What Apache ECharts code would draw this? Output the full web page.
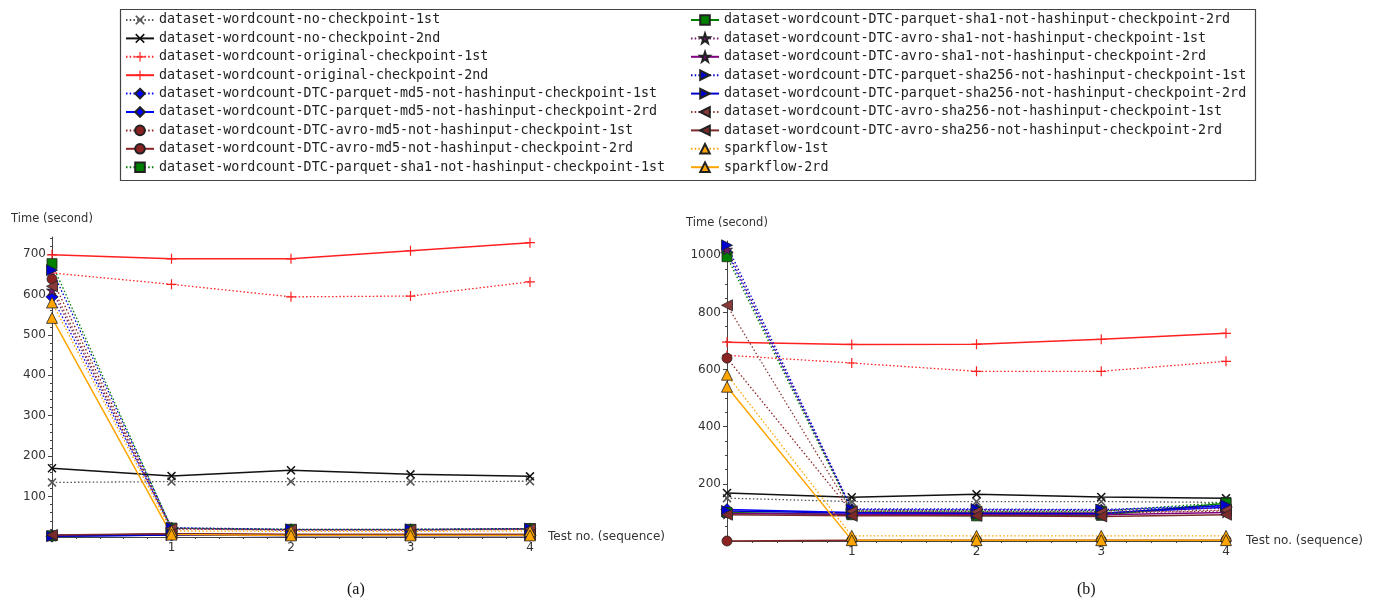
<!DOCTYPE html>
<html><head><meta charset="utf-8">
<script src="https://cdn.jsdelivr.net/npm/echarts@6/dist/echarts.min.js"></script>
<style>html,body{margin:0;padding:0;background:#fff}#c{width:1382px;height:605px}</style>
</head><body><div id="c"></div>
<script>
// ---------- data ----------
const testNo = [0, 1, 2, 3, 4];
const xTickLabels = [1, 2, 3, 4];
const yTicksA = [100, 200, 300, 400, 500, 600, 700];
const yTicksB = [200, 400, 600, 800, 1000];
const seriesNames = [
  'dataset-wordcount-no-checkpoint-1st',
  'dataset-wordcount-no-checkpoint-2nd',
  'dataset-wordcount-original-checkpoint-1st',
  'dataset-wordcount-original-checkpoint-2nd',
  'dataset-wordcount-DTC-parquet-md5-not-hashinput-checkpoint-1st',
  'dataset-wordcount-DTC-parquet-md5-not-hashinput-checkpoint-2rd',
  'dataset-wordcount-DTC-avro-md5-not-hashinput-checkpoint-1st',
  'dataset-wordcount-DTC-avro-md5-not-hashinput-checkpoint-2rd',
  'dataset-wordcount-DTC-parquet-sha1-not-hashinput-checkpoint-1st',
  'dataset-wordcount-DTC-parquet-sha1-not-hashinput-checkpoint-2rd',
  'dataset-wordcount-DTC-avro-sha1-not-hashinput-checkpoint-1st',
  'dataset-wordcount-DTC-avro-sha1-not-hashinput-checkpoint-2rd',
  'dataset-wordcount-DTC-parquet-sha256-not-hashinput-checkpoint-1st',
  'dataset-wordcount-DTC-parquet-sha256-not-hashinput-checkpoint-2rd',
  'dataset-wordcount-DTC-avro-sha256-not-hashinput-checkpoint-1st',
  'dataset-wordcount-DTC-avro-sha256-not-hashinput-checkpoint-2rd',
  'sparkflow-1st',
  'sparkflow-2rd'
];
// chart (a)
const a_noCp1      = [135, 137, 137, 137, 138];
const a_noCp2      = [170, 151, 165, 155, 150];
const a_orig1      = [653, 625, 594, 596, 631];
const a_orig2      = [698, 688, 688, 708, 728];
const a_pqMd5_1    = [594, 22, 18, 18, 20];
const a_pqMd5_2    = [2, 5, 4, 4, 4];
const a_avMd5_1    = [638, 21, 18, 18, 20];
const a_avMd5_2    = [3, 8, 6, 6, 6];
const a_pqSha1_1   = [676, 22, 19, 19, 21];
const a_pqSha1_2   = [3, 6, 5, 5, 5];
const a_avSha1_1   = [610, 20, 17, 17, 19];
const a_avSha1_2   = [4, 7, 5, 5, 5];
const a_pqSha256_1 = [660, 23, 19, 19, 21];
const a_pqSha256_2 = [2, 5, 4, 4, 4];
const a_avSha256_1 = [620, 21, 18, 18, 20];
const a_avSha256_2 = [5, 8, 6, 6, 6];
const a_spark1     = [580, 15, 14, 14, 15];
const a_spark2     = [542, 6, 4, 4, 4];
// chart (b)
const b_noCp1      = [150, 138, 138, 138, 135];
const b_noCp2      = [168, 153, 164, 154, 150];
const b_orig1      = [650, 623, 594, 594, 629];
const b_orig2      = [696, 688, 689, 706, 727];
const b_pqMd5_1    = [1010, 110, 110, 108, 122];
const b_pqMd5_2    = [110, 100, 98, 97, 118];
const b_avMd5_1    = [640, 102, 100, 98, 105];
const b_avMd5_2    = [0, 3, 3, 3, 3];
const b_pqSha1_1   = [995, 105, 104, 104, 135];
const b_pqSha1_2   = [100, 92, 88, 90, 132];
const b_avSha1_1   = [1020, 108, 107, 106, 115];
const b_avSha1_2   = [96, 94, 93, 92, 100];
const b_pqSha256_1 = [1035, 112, 112, 110, 125];
const b_pqSha256_2 = [105, 98, 97, 96, 125];
const b_avSha256_1 = [825, 104, 102, 100, 108];
const b_avSha256_2 = [92, 88, 88, 86, 92];
const b_spark1     = [582, 18, 18, 18, 18];
const b_spark2     = [540, 3, 3, 3, 3];

const dataA = [a_noCp1, a_noCp2, a_orig1, a_orig2, a_pqMd5_1, a_pqMd5_2, a_avMd5_1, a_avMd5_2,
  a_pqSha1_1, a_pqSha1_2, a_avSha1_1, a_avSha1_2, a_pqSha256_1, a_pqSha256_2, a_avSha256_1, a_avSha256_2, a_spark1, a_spark2];
const dataB = [b_noCp1, b_noCp2, b_orig1, b_orig2, b_pqMd5_1, b_pqMd5_2, b_avMd5_1, b_avMd5_2,
  b_pqSha1_1, b_pqSha1_2, b_avSha1_1, b_avSha1_2, b_pqSha256_1, b_pqSha256_2, b_avSha256_1, b_avSha256_2, b_spark1, b_spark2];

// ---------- styles ----------
const SYM_X = 'path://M0,1.2L1.2,0L5,3.8L8.8,0L10,1.2L6.2,5L10,8.8L8.8,10L5,6.2L1.2,10L0,8.8L3.8,5Z';
const SYM_PLUS = 'path://M4.4,0H5.6V4.4H10V5.6H5.6V10H4.4V5.6H0V4.4H4.4Z';
const SYM_STAR = 'path://M5,0L6.2,3.6L10,3.6L7,5.9L8.1,9.5L5,7.3L1.9,9.5L3,5.9L0,3.6L3.8,3.6Z';
const styles = [
  {c: '#555555', d: true,  s: SYM_X, z: 9, b: false},
  {c: '#111111', d: false, s: SYM_X, z: 9, b: false},
  {c: '#ff2020', d: true,  s: SYM_PLUS, z: 10, b: false},
  {c: '#ff2020', d: false, s: SYM_PLUS, z: 10, b: false},
  {c: '#0000ff', d: true,  s: 'diamond', z: 12, b: true},
  {c: '#0000ff', d: false, s: 'diamond', z: 12, b: true},
  {c: '#8b2323', d: true,  s: 'circle', z: 10, b: true},
  {c: '#8b2323', d: false, s: 'circle', z: 10, b: true},
  {c: '#008000', d: true,  s: 'rect', z: 10, b: true},
  {c: '#008000', d: false, s: 'rect', z: 10, b: true},
  {c: '#6a1a6a', d: true,  s: SYM_STAR, z: 11, b: true},
  {c: '#800080', d: false, s: SYM_STAR, z: 11, b: true},
  {c: '#0000cd', d: true,  s: 'triangle', r: -90, z: 11, b: true},
  {c: '#0000cd', d: false, s: 'triangle', r: -90, z: 11, b: true},
  {c: '#8b3a3a', d: true,  s: 'triangle', r: 90, z: 11, b: true},
  {c: '#7a2a2a', d: false, s: 'triangle', r: 90, z: 11, b: true},
  {c: '#ffa500', d: true,  s: 'triangle', z: 11, b: true},
  {c: '#ffa500', d: false, s: 'triangle', z: 11, b: true}
];

function buildSeries(data, gi) {
  return data.map((vals, i) => {
    const st = styles[i];
    return {
      name: seriesNames[i], type: 'line', xAxisIndex: gi * 2, yAxisIndex: gi * 2,
      data: vals.map((v, k) => [testNo[k], v]),
      symbol: st.s, symbolSize: st.z, symbolRotate: st.r || 0,
      showAllSymbol: true, animation: false,
      lineStyle: {color: st.c, width: st.d ? 1.3 : 1.5, type: st.d ? [1.5, 2.2] : 'solid'},
      itemStyle: {color: st.c, borderColor: st.b ? '#222' : st.c, borderWidth: st.b ? 0.8 : 0},
      emphasis: {disabled: true}
    };
  });
}

const tickFont = {fontFamily: 'DejaVu Sans', fontSize: 12, color: '#333', formatter: v => String(v)};
const axisCol = '#444';
function xAxes(gi) {
  const base = {type: 'value', gridIndex: gi, min: 0, max: 4, interval: 1, splitLine: {show: false}};
  return [
    Object.assign({}, base, {
      axisLine: {onZero: false, lineStyle: {color: axisCol, width: 1}},
      axisTick: {show: true, length: 4, customValues: xTickLabels, lineStyle: {color: axisCol}},
      minorTick: {show: true, splitNumber: 5, length: 2, lineStyle: {color: axisCol}},
      axisLabel: Object.assign({margin: 5, customValues: xTickLabels}, tickFont),
      name: 'Test no. (sequence)', nameLocation: 'end', nameGap: gi ? 20 : 18,
      nameTextStyle: {fontFamily: 'DejaVu Sans', fontSize: 12, color: '#333', padding: [0, 0, 10, 0]}
    }),
    Object.assign({}, base, {
      axisLine: {show: false}, axisLabel: {show: false},
      axisTick: {show: true, inside: true, length: 4, customValues: xTickLabels, lineStyle: {color: axisCol}},
      minorTick: {show: true, splitNumber: 5, length: 2, lineStyle: {color: axisCol}}
    })
  ];
}
function yAxes(gi, max, interval, ticks, minorSplit) {
  const base = {type: 'value', gridIndex: gi, min: 0, max: max, interval: interval, splitLine: {show: false}};
  return [
    Object.assign({}, base, {
      axisLine: {onZero: false, lineStyle: {color: axisCol, width: 1}},
      axisTick: {show: true, length: 4, customValues: ticks, lineStyle: {color: axisCol}},
      minorTick: {show: true, splitNumber: minorSplit, length: 2, lineStyle: {color: axisCol}},
      axisLabel: Object.assign({margin: 6, customValues: ticks}, tickFont),
      name: 'Time (second)', nameLocation: 'end', nameGap: 12,
      nameTextStyle: {fontFamily: 'DejaVu Sans', fontSize: 11.5, color: '#333'}
    }),
    Object.assign({}, base, {
      axisLine: {show: false}, axisLabel: {show: false},
      axisTick: {show: true, inside: true, length: 4, customValues: ticks, lineStyle: {color: axisCol}},
      minorTick: {show: true, splitNumber: minorSplit, length: 2, lineStyle: {color: axisCol}}
    })
  ];
}

const legendText = {fontFamily: 'DejaVu Sans Mono', fontSize: 13.35, color: '#222', lineHeight: 14};
const legendBase = {orient: 'vertical', top: 13, padding: 0, itemGap: 4.4, itemWidth: 28, itemHeight: 12,
  selectedMode: false, textStyle: legendText};

const chart = echarts.init(document.getElementById('c'), null, {renderer: 'canvas'});
chart.setOption({
  animation: false,
  backgroundColor: '#fff',
  grid: [
    {left: 52, top: 237, width: 478, height: 300},
    {left: 727, top: 241, width: 499, height: 300}
  ],
  xAxis: xAxes(0).concat(xAxes(1)),
  yAxis: yAxes(0, 742, 100, yTicksA, 5).concat(yAxes(1, 1050, 200, yTicksB, 4)),
  legend: [
    Object.assign({left: 125, data: seriesNames.slice(0, 9)}, legendBase),
    Object.assign({left: 690, data: seriesNames.slice(9)}, legendBase)
  ],
  graphic: [
    {type: 'rect', left: 118, top: 7, shape: {width: 1135, height: 171},
      style: {fill: 'none', stroke: '#444', lineWidth: 1.2}, silent: true},
    {type: 'text', left: 347, top: 582, style: {text: '(a)', font: '16px "Liberation Serif"', fill: '#111'}},
    {type: 'text', left: 1077, top: 582, style: {text: '(b)', font: '16px "Liberation Serif"', fill: '#111'}}
  ],
  series: buildSeries(dataA, 0).concat(buildSeries(dataB, 1))
});
</script>
</body></html>
